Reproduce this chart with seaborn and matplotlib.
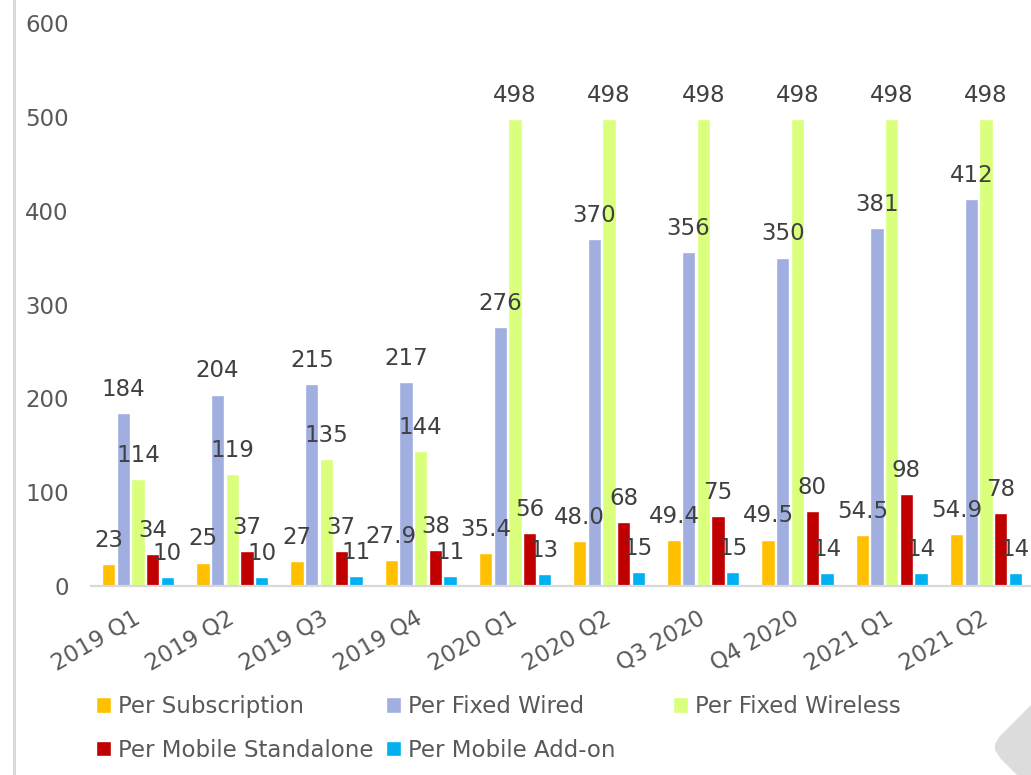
import matplotlib
matplotlib.use("Agg")
import matplotlib.pyplot as plt
from matplotlib.lines import Line2D
from matplotlib.patches import Polygon
import seaborn as sns
import pandas as pd

# Quarterly values per series
quarters = ["2019 Q1", "2019 Q2", "2019 Q3", "2019 Q4", "2020 Q1",
            "2020 Q2", "Q3 2020", "Q4 2020", "2021 Q1", "2021 Q2"]
series = ["Per Subscription", "Per Fixed Wired", "Per Fixed Wireless",
          "Per Mobile Standalone", "Per Mobile Add-on"]
per_subscription = [23, 25, 27, 27.9, 35.4, 48.0, 49.4, 49.5, 54.5, 54.9]
per_subscription_text = ["23", "25", "27", "27.9", "35.4", "48.0", "49.4", "49.5", "54.5", "54.9"]
per_fixed_wired = [184, 204, 215, 217, 276, 370, 356, 350, 381, 412]
per_fixed_wireless = [114, 119, 135, 144, 498, 498, 498, 498, 498, 498]
per_mobile_standalone = [34, 37, 37, 38, 56, 68, 75, 80, 98, 78]
per_mobile_addon = [10, 10, 11, 11, 13, 15, 15, 14, 14, 14]
y_ticks = [0, 100, 200, 300, 400, 500, 600]

colors = ["#FFC000", "#A0AEE0", "#D9FF7C", "#C00000", "#00B0F0"]
values = [per_subscription, per_fixed_wired, per_fixed_wireless,
          per_mobile_standalone, per_mobile_addon]
texts = [per_subscription_text] + [[f"{v:g}" for v in vals] for vals in values[1:]]

rows = []
for name, vals in zip(series, values):
    for q, v in zip(quarters, vals):
        rows.append({"quarter": q, "series": name, "value": v})
df = pd.DataFrame(rows)

sns.set_theme(style="white")
plt.rcParams["font.family"] = ["DejaVu Sans"]

W, H = 1031, 775
fig = plt.figure(figsize=(W / 100, H / 100), dpi=100)
fig.patch.set_facecolor("white")
ax = fig.add_axes([91 / W, (H - 586) / H, (1033 - 91) / W, (586 - 23) / H])

sns.barplot(data=df, x="quarter", y="value", hue="series", order=quarters,
            hue_order=series, palette=colors, saturation=1, width=0.78,
            gap=0.1, legend=False, ax=ax, errorbar=None)

ax.set_xlim(-0.5, 9.5)
ax.set_ylim(0, 600)
ax.set_yticks(y_ticks)
ax.set_xlabel("")
ax.set_ylabel("")
for side in ["top", "right", "left"]:
    ax.spines[side].set_visible(False)
ax.spines["bottom"].set_color("#D9D9D9")
ax.spines["bottom"].set_linewidth(1.6)

label_fs = 16.5
ax.tick_params(axis="y", length=0, pad=16, labelsize=label_fs, labelcolor="#595959")
ax.tick_params(axis="x", length=0, pad=22, labelsize=label_fs, labelcolor="#595959")
for lab in ax.get_xticklabels():
    lab.set_rotation(30)
    lab.set_ha("right")
    lab.set_va("center")
    lab.set_rotation_mode("anchor")

# value labels above each bar
for container, labs in zip(ax.containers, texts):
    for bar, txt in zip(container, labs):
        ax.annotate(txt, (bar.get_x() + bar.get_width() / 2, bar.get_height()),
                    xytext=(0, 17), textcoords="offset points",
                    ha="center", va="center", fontsize=label_fs,
                    color="#404040", annotation_clip=False)

# legend laid out in three equal-width columns
handles = list(ax.containers)
legend_cols = [[0, 3], [1, 4], [2]]
col_x = [96, 386, 673]
for cx, idxs in zip(col_x, legend_cols):
    fig.legend([handles[i] for i in idxs], [series[i] for i in idxs],
               loc="upper left", bbox_to_anchor=(cx / W, 1 - 695 / H),
               frameon=False, fontsize=label_fs, handlelength=0.65,
               handleheight=0.65, handletextpad=0.3, labelspacing=0.9,
               borderpad=0, borderaxespad=0, labelcolor="#595959")

# frame line on the left and corner decoration
fig.add_artist(Line2D([14 / W, 14 / W], [0, 1], color="#D9D9D9", lw=2.2,
                      transform=fig.transFigure))
corner = [(1031, 705), (1000, 736), (995, 744), (995, 750), (1000, 758),
          (1017, 775), (1031, 775)]
fig.add_artist(Polygon([(x / W, 1 - y / H) for x, y in corner], closed=True,
                       facecolor="#DCDCDC", edgecolor="none",
                       transform=fig.transFigure))

fig.savefig("out.png", dpi=100)
